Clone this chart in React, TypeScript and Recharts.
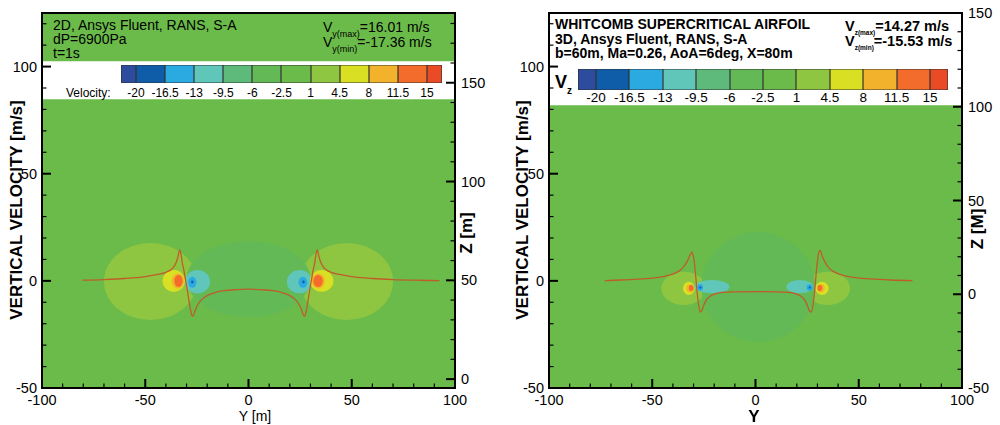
import React from 'react';
import { ComposedChart, Line, XAxis, YAxis, ReferenceArea } from 'recharts';

const FONT = '"Liberation Sans", Arial, Helvetica, sans-serif';

// contour levels of the vertical velocity map
const levelLabels = [-20, -16.5, -13, -9.5, -6, -2.5, 1, 4.5, 8, 11.5, 15];
const levelColors = [
  '#2d4c9d', '#0f5ca9', '#2ba9e1', '#60c6b9', '#5dba7b', '#63b955',
  '#6bbb4a', '#8fc641', '#d9e023', '#f3b22c', '#f36c2b', '#e94b27',
];
const BG = 6;

// axis ticks
const spanTicks = [-100, -90, -80, -70, -60, -50, -40, -30, -20, -10, 0, 10, 20, 30, 40, 50, 60, 70, 80, 90, 100];
const spanMajors = [-100, -50, 0, 50, 100];
const velTicks = [-50, -40, -30, -20, -10, 0, 10, 20, 30, 40, 50, 60, 70, 80, 90, 100, 110, 120];
const velMajors = [-50, 0, 50, 100];
const z2DTicks = [0, 10, 20, 30, 40, 50, 60, 70, 80, 90, 100, 110, 120, 130, 140, 150, 160, 170, 180];
const z2DMajors = [0, 50, 100, 150];
const z3DTicks = [-50, -40, -30, -20, -10, 0, 10, 20, 30, 40, 50, 60, 70, 80, 90, 100, 110, 120, 130, 140, 150];
const z3DMajors = [-50, 0, 50, 100, 150];

// 2D case: vertical velocity along the span
const span2D = [
  -80.5, -70, -60, -50, -44, -40, -38, -36.5, -35.2, -34.2, -33.3, -32.6, -32, -31.3, -30.5, -29.6,
  -28.7, -27.9, -27.2, -26.6, -25.8, -24.8, -23.5, -21.5, -19, -16, -12, -6, 0,
  6, 12, 16, 19, 21.5, 23.5, 24.8, 25.8, 26.6, 27.2, 27.9, 28.7, 29.6, 30.5, 31.3, 32, 32.6,
  33.3, 34.2, 35.2, 36.5, 38, 40, 44, 50, 60, 70, 80, 92.5,
];
const vel2D = [
  0.3, 0.6, 1.1, 2.0, 3.0, 4.0, 4.9, 6.2, 8.2, 11.0, 14.4, 12.0, 8.0, 5.0, 0.5, -4.5,
  -10.0, -14.3, -16.5, -16.0, -13.8, -11.5, -9.6, -7.8, -6.4, -5.4, -4.6, -4.1, -3.9,
  -4.1, -4.6, -5.4, -6.4, -7.8, -9.6, -11.5, -13.8, -16.0, -16.5, -14.3, -10.0, -4.5, 0.5, 5.0, 8.0, 12.0,
  14.4, 11.0, 8.2, 6.2, 4.9, 4.0, 3.0, 2.0, 1.1, 0.6, 0.3, 0.1,
];

// 3D case: vertical velocity along the span
const span3D = [
  -73, -65, -55, -47, -42, -39, -36.5, -34.5, -33, -31.8, -30.8, -30.1, -29.5, -28.9, -28.2, -27.5,
  -26.7, -26, -25, -24, -22, -20, -16, -10, 0,
  10, 16, 20, 22, 24, 25, 26, 27, 27.8, 28.5, 29.2, 29.8, 30.4, 31.2, 32.2, 33.4, 34.8, 36.8,
  39.3, 42.3, 47.3, 55.3, 65.3, 76,
];
const vel3D = [
  0.1, 0.4, 0.9, 1.6, 2.6, 3.6, 5.0, 7.0, 9.2, 11.8, 13.5, 11.5, 7.5, 1.5, -6.0, -11.5,
  -14.6, -13.8, -11.3, -9.2, -7.2, -6.2, -5.4, -5.1, -5.0,
  -5.1, -5.4, -6.2, -7.2, -9.2, -11.3, -13.8, -14.6, -11.5, -6.0, 1.5, 7.5, 12.0, 14.2, 11.8, 9.2, 7.0, 5.0,
  3.6, 2.6, 1.6, 0.9, 0.4, 0.1,
];

// contour regions: [yMin, yMax, zMin, zMax, level]
const blobs2D = [
  [-70, -25, 29.9, 68.9, 7],
  [25, 70, 29.9, 68.9, 7],
  [-30, 30, 31.4, 69.9, 5],
  [-30.8, -18.6, 43.4, 55.2, 3],
  [18.6, 30.8, 43.4, 55.2, 3],
  [-29.2, -25.2, 46.2, 51.8, 2],
  [24.2, 28.5, 46.2, 51.8, 2],
  [-27.8, -26.6, 48.4, 49.9, 1],
  [26, 27.2, 48.4, 49.9, 1],
  [-41.6, -30.8, 44.2, 55.2, 8],
  [29.8, 41.1, 44.2, 55.2, 8],
  [-37.2, -31.2, 45.9, 53.5, 9],
  [30.6, 37, 45.9, 53.5, 9],
  [-35.9, -31.9, 46.6, 52.7, 10],
  [31.4, 36, 46.6, 52.7, 10],
];
const blobs3D = [
  [-45.6, -24, -5.7, 12, 7],
  [24, 45.8, -5.7, 12, 7],
  [-26.2, 28.8, -25.5, 33.2, 5],
  [-29.6, -12.6, 0.5, 7.6, 3],
  [15, 28, 0.5, 7.6, 3],
  [-28.2, -25.4, 1.9, 5.3, 2],
  [24.8, 27.7, 1.9, 5.3, 2],
  [-27.2, -26.2, 3, 4.2, 1],
  [25.8, 26.8, 3, 4.2, 1],
  [-35.1, -29.5, -0.4, 6.7, 8],
  [29, 35.4, -0.4, 6.7, 8],
  [-33.5, -29.8, 1, 5.3, 9],
  [29.8, 33.5, 1, 5.3, 9],
  [-32.3, -30, 1.7, 4.9, 10],
  [30, 32.3, 1.7, 4.9, 10],
];

const data2D = span2D.map((y, i) => ({ y, v: vel2D[i] }));
const data3D = span3D.map((y, i) => ({ y, v: vel3D[i] }));

function Ellipse(props: any) {
  const { x, y, width, height, fill } = props;
  return <ellipse cx={x + width / 2} cy={y + height / 2} rx={width / 2} ry={height / 2} fill={fill} />;
}

function Tick(props: any) {
  const { x, y, payload, side, majors } = props;
  const v = payload.value;
  const major = majors.includes(v);
  const len = major ? 9 : 4.5;
  const sw = major ? 2 : 1.2;
  const txt = { fontFamily: FONT, fontSize: 14.5, fill: '#000' };
  if (side === 'bottom') {
    return (
      <g>
        <line x1={x} x2={x} y1={y} y2={y - len} stroke="#000" strokeWidth={sw} />
        {major && <text x={x} y={y + 12} dy="0.35em" textAnchor="middle" {...txt}>{v}</text>}
      </g>
    );
  }
  const dir = side === 'left' ? 1 : -1;
  return (
    <g>
      <line x1={x} x2={x + dir * len} y1={y} y2={y} stroke="#000" strokeWidth={sw} />
      {major && (
        <text x={side === 'left' ? x - 5 : x + 6} y={y} dy="0.35em" textAnchor={side === 'left' ? 'end' : 'start'} {...txt}>
          {v}
        </text>
      )}
    </g>
  );
}

function Panel({ data, blobs, fills, zDomain, zTicks, zMajors, leftW, rightW }: any) {
  return (
    <ComposedChart width={500} height={425} data={data} margin={{ top: 13, right: 0, bottom: 0, left: 0 }}>
      {fills.map((f: any[], i: number) => (
        <ReferenceArea key={'f' + i} yAxisId="v" x1={-100} x2={100} y1={f[0]} y2={f[1]} fill={f[2]} fillOpacity={1} stroke="none" ifOverflow="visible" />
      ))}
      {blobs.map((b: number[], i: number) => (
        <ReferenceArea key={'b' + i} yAxisId="z" x1={b[0]} x2={b[1]} y1={b[2]} y2={b[3]} fill={levelColors[b[4]]} shape={<Ellipse />} ifOverflow="visible" />
      ))}
      <Line yAxisId="v" dataKey="v" type="monotone" stroke="#bf5d2a" strokeWidth={1.3} dot={false} activeDot={false} isAnimationActive={false} />
      <ReferenceArea yAxisId="v" x1={-100} x2={100} y1={-50} y2={125} fill="none" fillOpacity={0} stroke="#000" strokeWidth={2} ifOverflow="visible" />
      <XAxis
        dataKey="y" type="number" domain={[-100, 100]} ticks={spanTicks} interval={0} allowDataOverflow height={37}
        tickSize={0} tickMargin={0} tickLine={false} axisLine={{ stroke: '#000', strokeWidth: 2 }}
        tick={<Tick side="bottom" majors={spanMajors} />}
      />
      <YAxis
        yAxisId="v" type="number" domain={[-50, 125]} ticks={velTicks} interval={0} allowDataOverflow width={leftW}
        tickSize={0} tickMargin={0} tickLine={false} axisLine={{ stroke: '#000', strokeWidth: 2 }}
        tick={<Tick side="left" majors={velMajors} />}
      />
      <YAxis
        yAxisId="z" orientation="right" type="number" domain={zDomain} ticks={zTicks} interval={0} allowDataOverflow width={rightW}
        tickSize={0} tickMargin={0} tickLine={false} axisLine={{ stroke: '#000', strokeWidth: 2 }}
        tick={<Tick side="right" majors={zMajors} />}
      />
    </ComposedChart>
  );
}

function Txt({ x, y, size, bold, anchor = 'start', rotate, children }: any) {
  const tx = anchor === 'middle' ? '-50%' : '0';
  return (
    <div
      style={{
        position: 'absolute', left: x, top: y, fontSize: size, fontWeight: bold ? 700 : 400,
        lineHeight: 1, whiteSpace: 'nowrap', color: '#000',
        transform: `translate(${tx}, -50%)${rotate ? ' rotate(-90deg)' : ''}`,
      }}
    >
      {children}
    </div>
  );
}

function Sub({ size, drop, children }: any) {
  return <span style={{ fontSize: size, position: 'relative', top: drop }}>{children}</span>;
}

function ColorBar({ left, top, height, edge, seg, size, labelY }: any) {
  return (
    <>
      <div style={{ position: 'absolute', left, top, height, display: 'flex' }}>
        {levelColors.map((c, i) => (
          <div
            key={c}
            style={{
              width: i === 0 || i === levelColors.length - 1 ? edge : seg, height,
              background: c, boxShadow: 'inset 0 0 0 0.6px #333',
            }}
          />
        ))}
      </div>
      {levelLabels.map((l, i) => (
        <Txt key={l} x={left + edge + i * seg} y={labelY} size={size} anchor="middle">{l}</Txt>
      ))}
    </>
  );
}

export default function App() {
  const green = levelColors[BG];
  return (
    <div style={{ position: 'fixed', left: 0, top: 0, width: 1000, height: 425, background: '#fff', fontFamily: FONT }}>
      <div style={{ position: 'absolute', left: 0, top: 0, width: 500, height: 425 }}>
        <Panel
          data={data2D} blobs={blobs2D} fills={[[-50, 125, green], [84.7, 102.5, '#fff']]}
          zDomain={[-4.5, 185.3]} zTicks={z2DTicks} zMajors={z2DMajors} leftW={42} rightW={45}
        />
        <Txt x={53} y={25} size={14}>2D, Ansys Fluent, RANS, S-A</Txt>
        <Txt x={53} y={39} size={14}>dP=6900Pa</Txt>
        <Txt x={53} y={53} size={14}>t=1s</Txt>
        <Txt x={323} y={27} size={14}>V<Sub size={9} drop={5}>y(max)</Sub>=16.01 m/s</Txt>
        <Txt x={323} y={42} size={14}>V<Sub size={9} drop={5}>y(min)</Sub>=-17.36 m/s</Txt>
        <Txt x={66} y={93} size={12}>Velocity:</Txt>
        <ColorBar left={121} top={65} height={18} edge={15} seg={29.1} size={12} labelY={93} />
        <Txt x={16} y={210} size={17} bold anchor="middle" rotate>VERTICAL VELOCITY [m/s]</Txt>
        <Txt x={466} y={233} size={17} bold anchor="middle" rotate>Z [m]</Txt>
        <Txt x={255} y={416} size={14} anchor="middle">Y [m]</Txt>
      </div>
      <div style={{ position: 'absolute', left: 500, top: 0, width: 500, height: 425 }}>
        <Panel
          data={data3D} blobs={blobs3D} fills={[[-50, 82, green]]}
          zDomain={[-50, 150]} zTicks={z3DTicks} zMajors={z3DMajors} leftW={49} rightW={38}
        />
        <div style={{ position: 'absolute', left: 0, top: 0, width: 461, height: 62, overflow: 'hidden' }}>
          <Txt x={55} y={24} size={14} bold>WHITCOMB SUPERCRITICAL AIRFOIL</Txt>
          <Txt x={55} y={38.5} size={14} bold>3D, Ansys Fluent, RANS, S-A</Txt>
          <Txt x={55} y={53} size={14} bold>b=60m, Ma=0.26, AoA=6deg, X=80m</Txt>
          <Txt x={345} y={26} size={14.5} bold>V<Sub size={6.5} drop={4}>z(max)</Sub>=14.27 m/s</Txt>
          <Txt x={345} y={41} size={14.5} bold>V<Sub size={6.5} drop={4}>z(min)</Sub>=-15.53 m/s</Txt>
        </div>
        <Txt x={55} y={82} size={18} bold>V<Sub size={10} drop={6}>z</Sub></Txt>
        <ColorBar left={78} top={69} height={21} edge={18} seg={33.4} size={13.5} labelY={98} />
        <Txt x={22} y={210} size={17} bold anchor="middle" rotate>VERTICAL VELOCITY [m/s]</Txt>
        <Txt x={477} y={229} size={17} bold anchor="middle" rotate>Z [M]</Txt>
        <Txt x={254} y={416} size={17} bold anchor="middle">Y</Txt>
      </div>
    </div>
  );
}
